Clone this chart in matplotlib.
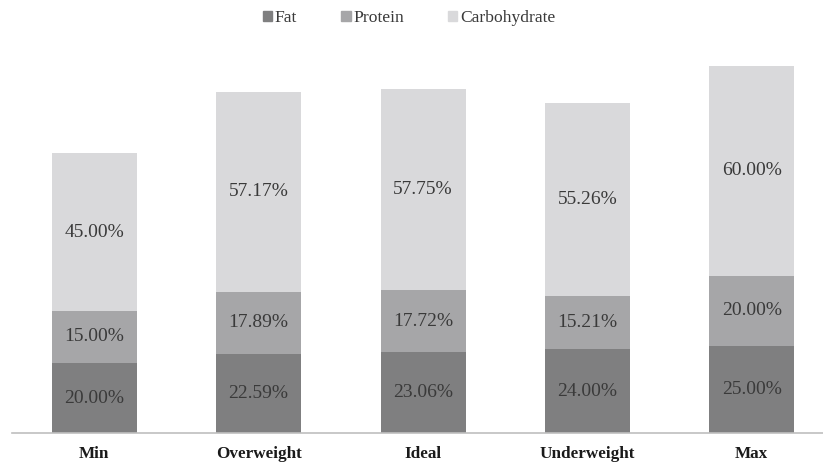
import matplotlib.pyplot as plt
from matplotlib.patches import Patch
import numpy as np

categories = ["Min", "Overweight", "Ideal", "Underweight", "Max"]
fat = [20.00, 22.59, 23.06, 24.00, 25.00]
protein = [15.00, 17.89, 17.72, 15.21, 20.00]
carbohydrate = [45.00, 57.17, 57.75, 55.26, 60.00]

series = [("Fat", fat, "#7f7f80"),
          ("Protein", protein, "#a6a6a8"),
          ("Carbohydrate", carbohydrate, "#d9d9db")]

plt.rcParams['font.family'] = ['Liberation Serif', 'DejaVu Serif']
text_col = "#3a3a3a"

fig = plt.figure(figsize=(8.23, 4.66), dpi=100)
ax = fig.add_axes([12 / 823, 33 / 466, 1.0, 393 / 466])

x = np.arange(len(categories))
bottom = np.zeros(len(categories))
for name, vals, col in series:
    vals = np.array(vals)
    ax.bar(x, vals, 0.517, bottom=bottom, color=col, label=name)
    for xi, b, v in zip(x, bottom, vals):
        ax.text(xi, b + v / 2, f"{v:.2f}%", ha="center", va="center",
                fontsize=14, color=text_col)
    bottom += vals

ax.set_xlim(-0.5, 4.506)
ax.set_ylim(0, 112.45)
ax.set_xticks(x)
ax.set_xticklabels(categories, fontsize=12.3, fontweight="bold", color="#1a1a1a")
ax.tick_params(axis="x", length=0, pad=9)
ax.set_yticks([])
for s in ["top", "right", "left"]:
    ax.spines[s].set_visible(False)
ax.spines["bottom"].set_color("#bfbfbf")
ax.spines["bottom"].set_linewidth(1.2)

handles = [Patch(color=c, label=n) for n, _, c in series]
fig.legend(handles=handles, loc="center", bbox_to_anchor=(0.497, 1 - 18 / 466),
           ncol=3, frameon=False, fontsize=12.6, handlelength=0.55,
           handleheight=0.55, handletextpad=0.15, columnspacing=2.5,
           labelcolor=text_col)

fig.savefig("out.png", dpi=100)
